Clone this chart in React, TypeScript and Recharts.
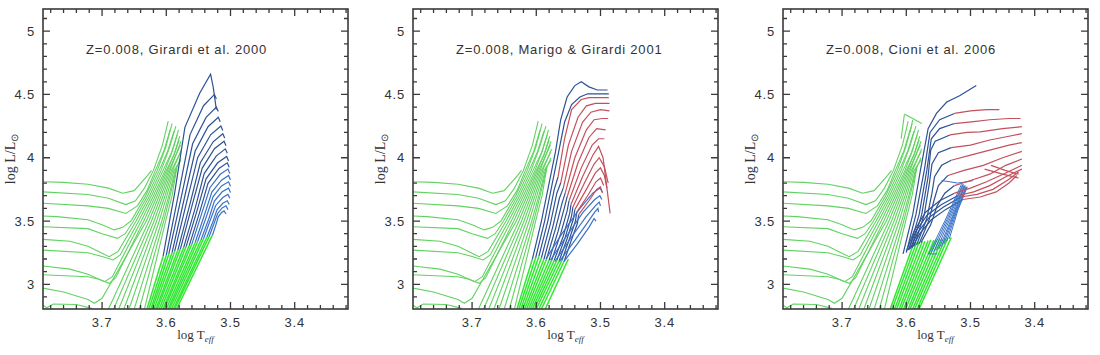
import { ScatterChart, Scatter, XAxis, YAxis } from 'recharts'

type Pt = [number, number]

// axes
const X_DOMAIN: [number, number] = [3.317, 3.792]
const Y_DOMAIN: [number, number] = [2.805, 5.175]
const X_TICKS = [3.32, 3.34, 3.36, 3.38, 3.4, 3.42, 3.44, 3.46, 3.48, 3.5, 3.52, 3.54, 3.56, 3.58, 3.6, 3.62, 3.64, 3.66, 3.68, 3.7, 3.72, 3.74, 3.76, 3.78]
const Y_TICKS = [2.9, 3, 3.1, 3.2, 3.3, 3.4, 3.5, 3.6, 3.7, 3.8, 3.9, 4, 4.1, 4.2, 4.3, 4.4, 4.5, 4.6, 4.7, 4.8, 4.9, 5, 5.1]

const TITLES = ['Z=0.008, Girardi et al. 2000', 'Z=0.008, Marigo & Girardi 2001', 'Z=0.008, Cioni et al. 2006']

// plot box inside each 370x355 panel
const PLOT_L = 43
const PLOT_T = 9
const PLOT_W = 305
const PLOT_H = 300

const FRAME = '#3a3a3a'
const GREEN = '#62d262'
const BRIGHT = '#30e830'
const BLUE = '#2d5295'
const BLUE_LIGHT = '#3a72c8'
const RED = '#c4505c'

// green isochrones with main-sequence part, shared by all panels
const GREEN_TRACKS: Pt[][] = [
  [[3.792, 3.81], [3.76, 3.805], [3.722, 3.79], [3.69, 3.76], [3.668, 3.72], [3.65, 3.74], [3.629, 3.86], [3.623, 3.9]],
  [[3.792, 3.73], [3.722, 3.71], [3.69, 3.68], [3.663, 3.63], [3.648, 3.66], [3.634, 3.76], [3.62, 3.9], [3.606, 4.1], [3.597, 4.29]],
  [[3.792, 3.64], [3.722, 3.62], [3.69, 3.6], [3.663, 3.56], [3.645, 3.62], [3.63, 3.74], [3.617, 3.9], [3.604, 4.05], [3.594, 4.22]],
  [[3.792, 3.54], [3.77, 3.535], [3.722, 3.51], [3.7, 3.47], [3.681, 3.43], [3.668, 3.45], [3.655, 3.5], [3.632, 3.7], [3.614, 3.9], [3.601, 4.08], [3.591, 4.27]],
  [[3.792, 3.455], [3.722, 3.44], [3.7, 3.4], [3.676, 3.363], [3.664, 3.4], [3.651, 3.5], [3.629, 3.7], [3.611, 3.9], [3.598, 4.05], [3.588, 4.21]],
  [[3.792, 3.355], [3.75, 3.34], [3.722, 3.3], [3.689, 3.218], [3.675, 3.26], [3.647, 3.5], [3.626, 3.7], [3.608, 3.9], [3.595, 4.08], [3.585, 4.25]],
  [[3.792, 3.27], [3.722, 3.25], [3.7, 3.22], [3.683, 3.192], [3.672, 3.23], [3.643, 3.5], [3.623, 3.7], [3.605, 3.9], [3.592, 4.04], [3.583, 4.18]],
  [[3.792, 3.145], [3.75, 3.12], [3.722, 3.08], [3.696, 3.021], [3.684, 3.06], [3.639, 3.5], [3.62, 3.7], [3.602, 3.9], [3.59, 4.06], [3.581, 4.22]],
  [[3.792, 3.075], [3.722, 3.06], [3.705, 3.04], [3.689, 3.008], [3.679, 3.05], [3.635, 3.5], [3.617, 3.7], [3.6, 3.9], [3.588, 4.02], [3.58, 4.14]],
  [[3.792, 2.97], [3.76, 2.94], [3.722, 2.88], [3.712, 2.85], [3.7, 2.89], [3.631, 3.5], [3.614, 3.7], [3.598, 3.9], [3.587, 4.04], [3.579, 4.17]],
  [[3.792, 2.835], [3.786, 2.815], [3.776, 2.845], [3.74, 2.84], [3.716, 2.81]],
]

// green giant branches entering from the bottom edge
const GREEN_RGB: Pt[][] = [
  [[3.69, 2.805], [3.627, 3.5], [3.611, 3.7], [3.596, 3.9], [3.578, 4.1]],
  [[3.682, 2.805], [3.623, 3.5], [3.608, 3.7], [3.594, 3.9], [3.577, 4.13]],
  [[3.674, 2.805], [3.619, 3.5], [3.605, 3.7], [3.592, 3.9], [3.577, 4.05]],
  [[3.666, 2.805], [3.615, 3.5], [3.602, 3.7], [3.59, 3.9], [3.576, 4.07]],
  [[3.658, 2.805], [3.611, 3.5], [3.599, 3.7], [3.588, 3.9], [3.577, 3.98]],
  [[3.65, 2.805], [3.607, 3.5], [3.596, 3.7], [3.586, 3.9], [3.577, 4.0]],
  [[3.642, 2.805], [3.604, 3.5], [3.594, 3.7], [3.584, 3.92]],
  [[3.634, 2.805], [3.601, 3.5], [3.591, 3.7], [3.583, 3.94]],
]

// panel 1: Girardi et al. 2000
const BRIGHT_1: Pt[][] = [
  [[3.63, 2.805], [3.605, 3.22]], [[3.627, 2.805], [3.6, 3.23]], [[3.624, 2.805], [3.596, 3.24]],
  [[3.622, 2.805], [3.591, 3.25]], [[3.619, 2.805], [3.587, 3.26]], [[3.616, 2.805], [3.582, 3.27]],
  [[3.614, 2.805], [3.578, 3.28]], [[3.611, 2.805], [3.573, 3.29]], [[3.608, 2.805], [3.569, 3.3]],
  [[3.605, 2.805], [3.564, 3.31]], [[3.603, 2.805], [3.56, 3.32]], [[3.6, 2.805], [3.555, 3.33]],
  [[3.597, 2.805], [3.551, 3.34]], [[3.595, 2.805], [3.546, 3.35]], [[3.592, 2.805], [3.542, 3.36]],
  [[3.589, 2.805], [3.537, 3.37]], [[3.587, 2.805], [3.533, 3.38]], [[3.584, 2.805], [3.528, 3.39]],
]

const BLUE_1: Pt[][] = [
  [[3.605, 3.22], [3.587, 3.72], [3.571, 4.24], [3.548, 4.51], [3.531, 4.66], [3.527, 4.56], [3.522, 4.38]],
  [[3.6, 3.23], [3.58, 3.738], [3.563, 4.183], [3.542, 4.411], [3.525, 4.5], [3.522, 4.465]],
  [[3.596, 3.24], [3.576, 3.704], [3.559, 4.11], [3.538, 4.319], [3.522, 4.4], [3.519, 4.365]],
  [[3.591, 3.25], [3.572, 3.678], [3.555, 4.053], [3.535, 4.245], [3.519, 4.32], [3.516, 4.285]],
  [[3.587, 3.26], [3.568, 3.656], [3.551, 4.003], [3.531, 4.181], [3.515, 4.25], [3.512, 4.215]],
  [[3.582, 3.27], [3.563, 3.638], [3.547, 3.96], [3.527, 4.126], [3.512, 4.19], [3.509, 4.155]],
  [[3.578, 3.28], [3.56, 3.62], [3.544, 3.918], [3.525, 4.071], [3.51, 4.13], [3.507, 4.095]],
  [[3.573, 3.29], [3.555, 3.602], [3.541, 3.875], [3.522, 4.015], [3.508, 4.07], [3.505, 4.035]],
  [[3.569, 3.3], [3.552, 3.584], [3.538, 3.833], [3.52, 3.96], [3.506, 4.01], [3.503, 3.975]],
  [[3.564, 3.31], [3.548, 3.57], [3.535, 3.798], [3.518, 3.915], [3.505, 3.96], [3.502, 3.925]],
  [[3.56, 3.32], [3.545, 3.556], [3.532, 3.763], [3.516, 3.869], [3.504, 3.91], [3.501, 3.875]],
  [[3.555, 3.33], [3.541, 3.542], [3.529, 3.728], [3.514, 3.823], [3.503, 3.86], [3.5, 3.825]],
  [[3.551, 3.34], [3.538, 3.528], [3.527, 3.693], [3.514, 3.777], [3.503, 3.81], [3.5, 3.775]],
  [[3.546, 3.35], [3.534, 3.514], [3.525, 3.658], [3.513, 3.731], [3.503, 3.76], [3.5, 3.725]],
  [[3.542, 3.36], [3.532, 3.5], [3.523, 3.623], [3.512, 3.686], [3.504, 3.71], [3.501, 3.68]],
  [[3.537, 3.37], [3.528, 3.486], [3.521, 3.588], [3.512, 3.64], [3.505, 3.66], [3.502, 3.63]],
  [[3.533, 3.38], [3.526, 3.476], [3.52, 3.56], [3.513, 3.603], [3.507, 3.62], [3.504, 3.59]],
  [[3.528, 3.39], [3.523, 3.466], [3.519, 3.533], [3.514, 3.567], [3.51, 3.58], [3.507, 3.555]],
]

// panel 2: Marigo & Girardi 2001
const BRIGHT_2: Pt[][] = [
  [[3.63, 2.805], [3.606, 3.2]], [[3.627, 2.805], [3.601, 3.21]], [[3.624, 2.805], [3.596, 3.22]],
  [[3.621, 2.805], [3.592, 3.21]], [[3.618, 2.805], [3.588, 3.2]], [[3.615, 2.805], [3.584, 3.2]],
  [[3.612, 2.805], [3.58, 3.19]], [[3.609, 2.805], [3.576, 3.19]], [[3.606, 2.805], [3.572, 3.19]],
  [[3.603, 2.805], [3.568, 3.19]], [[3.6, 2.805], [3.564, 3.19]], [[3.596, 2.805], [3.56, 3.19]],
  [[3.592, 2.805], [3.556, 3.19]], [[3.586, 2.805], [3.55, 3.2]],
]

const BLUE_2: Pt[][] = [
  [[3.606, 3.2], [3.592, 3.5], [3.58, 3.8], [3.57, 4.05], [3.562, 4.3], [3.552, 4.48], [3.54, 4.57], [3.53, 4.6], [3.518, 4.56], [3.505, 4.535], [3.489, 4.535]],
  [[3.601, 3.21], [3.587, 3.5], [3.575, 3.8], [3.565, 4.05], [3.556, 4.28], [3.545, 4.42], [3.532, 4.48], [3.52, 4.505], [3.505, 4.505], [3.487, 4.505]],
  [[3.596, 3.22], [3.582, 3.5], [3.572, 3.75], [3.566, 3.85]],
  [[3.592, 3.21], [3.578, 3.48], [3.568, 3.72], [3.562, 3.8]],
  [[3.588, 3.2], [3.574, 3.46], [3.564, 3.68], [3.558, 3.76]],
  [[3.584, 3.2], [3.57, 3.44], [3.56, 3.64], [3.555, 3.72]],
  [[3.58, 3.19], [3.566, 3.42], [3.556, 3.61], [3.552, 3.69]],
  [[3.576, 3.19], [3.562, 3.4], [3.552, 3.58], [3.549, 3.66]],
  [[3.572, 3.19], [3.558, 3.38], [3.548, 3.56], [3.546, 3.63]],
  [[3.568, 3.19], [3.555, 3.37], [3.545, 3.54], [3.543, 3.61]],
  [[3.564, 3.19], [3.552, 3.36], [3.542, 3.52], [3.54, 3.59]],
  [[3.56, 3.19], [3.549, 3.35], [3.539, 3.5], [3.537, 3.57]],
  [[3.556, 3.19], [3.546, 3.34], [3.536, 3.48], [3.534, 3.55]],
]

const BLUE_2_LOW: Pt[][] = [
  [[3.585, 3.2], [3.56, 3.4], [3.532, 3.6], [3.512, 3.72], [3.501, 3.76], [3.497, 3.73]],
  [[3.578, 3.19], [3.553, 3.38], [3.527, 3.57], [3.509, 3.67], [3.501, 3.7], [3.498, 3.67]],
  [[3.571, 3.18], [3.547, 3.36], [3.523, 3.53], [3.508, 3.62], [3.502, 3.65], [3.5, 3.62]],
  [[3.564, 3.18], [3.541, 3.34], [3.52, 3.49], [3.509, 3.57], [3.504, 3.6], [3.503, 3.57]],
  [[3.557, 3.18], [3.536, 3.32], [3.518, 3.45], [3.51, 3.52], [3.507, 3.5]],
]

const RED_2: Pt[][] = [
  [[3.566, 3.85], [3.556, 4.15], [3.545, 4.38], [3.53, 4.46], [3.518, 4.475], [3.487, 4.475]],
  [[3.562, 3.8], [3.55, 4.1], [3.535, 4.32], [3.522, 4.41], [3.508, 4.43], [3.486, 4.43]],
  [[3.558, 3.76], [3.545, 4.05], [3.528, 4.28], [3.515, 4.36], [3.5, 4.38], [3.486, 4.37]],
  [[3.555, 3.72], [3.54, 4.0], [3.522, 4.22], [3.51, 4.3], [3.497, 4.31], [3.488, 4.31]],
  [[3.552, 3.69], [3.535, 3.96], [3.518, 4.16], [3.506, 4.23], [3.492, 4.22]],
  [[3.549, 3.66], [3.53, 3.92], [3.513, 4.1], [3.503, 4.15], [3.494, 4.15]],
  [[3.546, 3.63], [3.528, 3.85], [3.512, 4.02], [3.503, 4.09], [3.496, 4.0], [3.485, 3.56]],
  [[3.543, 3.61], [3.525, 3.8], [3.51, 3.95], [3.502, 4.0], [3.494, 3.93], [3.488, 3.8]],
  [[3.54, 3.59], [3.522, 3.75], [3.508, 3.88], [3.5, 3.92], [3.494, 3.86], [3.49, 3.76]],
  [[3.537, 3.57], [3.52, 3.7], [3.507, 3.81], [3.5, 3.84], [3.495, 3.78]],
  [[3.534, 3.55], [3.518, 3.66], [3.506, 3.75], [3.5, 3.77], [3.497, 3.72]],
]

// panel 3: Cioni et al. 2006
const BRIGHT_3: Pt[][] = [
  [[3.625, 2.805], [3.588, 3.33]], [[3.622, 2.805], [3.584, 3.33]], [[3.618, 2.805], [3.58, 3.335]],
  [[3.615, 2.805], [3.575, 3.34]], [[3.611, 2.805], [3.571, 3.34]], [[3.608, 2.805], [3.566, 3.345]],
  [[3.604, 2.805], [3.562, 3.35]], [[3.601, 2.805], [3.557, 3.35]], [[3.597, 2.805], [3.553, 3.355]],
  [[3.594, 2.805], [3.548, 3.36]], [[3.59, 2.805], [3.544, 3.36]], [[3.587, 2.805], [3.539, 3.365]],
  [[3.583, 2.805], [3.535, 3.37]], [[3.58, 2.805], [3.53, 3.37]],
]

const GREEN_3: Pt[][] = [
  [[3.603, 4.345], [3.59, 4.31], [3.576, 4.27]],
  [[3.608, 4.15], [3.603, 4.34]],
  [[3.594, 4.2], [3.59, 4.3]],
]

const BLUE_3: Pt[][] = [
  [[3.605, 3.24], [3.59, 3.55], [3.578, 3.9], [3.566, 4.23], [3.553, 4.35], [3.537, 4.44], [3.517, 4.49], [3.491, 4.57]],
  [[3.6, 3.25], [3.585, 3.55], [3.572, 3.9], [3.563, 4.2], [3.548, 4.3], [3.525, 4.35]],
  [[3.596, 3.27], [3.58, 3.55], [3.568, 3.9], [3.561, 4.15], [3.548, 4.23], [3.525, 4.27]],
  [[3.592, 3.29], [3.576, 3.55], [3.566, 3.85], [3.562, 4.06], [3.555, 4.13], [3.532, 4.18]],
  [[3.588, 3.3], [3.572, 3.55], [3.564, 3.8], [3.56, 3.95], [3.55, 4.04], [3.53, 4.08]],
  [[3.584, 3.31], [3.568, 3.52], [3.56, 3.72], [3.556, 3.85], [3.545, 3.94], [3.53, 3.98]],
  [[3.58, 3.32], [3.565, 3.5], [3.557, 3.66], [3.55, 3.78], [3.535, 3.86]],
  [[3.577, 3.33], [3.562, 3.47], [3.552, 3.62], [3.54, 3.72], [3.525, 3.78]],
  [[3.6, 3.26], [3.588, 3.42], [3.57, 3.57], [3.548, 3.66], [3.525, 3.72]],
  [[3.597, 3.27], [3.585, 3.42], [3.567, 3.55], [3.545, 3.63], [3.52, 3.7]],
  [[3.594, 3.28], [3.582, 3.41], [3.564, 3.53], [3.542, 3.61], [3.515, 3.69]],
  [[3.591, 3.29], [3.579, 3.4], [3.561, 3.51], [3.539, 3.59], [3.512, 3.67]],
]

const FAN_3: Pt[][] = [
  [[3.565, 3.24], [3.54, 3.5], [3.514, 3.79]],
  [[3.561, 3.25], [3.537, 3.51], [3.512, 3.79]],
  [[3.557, 3.26], [3.534, 3.52], [3.511, 3.79]],
  [[3.553, 3.27], [3.531, 3.53], [3.51, 3.78]],
  [[3.549, 3.28], [3.528, 3.54], [3.509, 3.78]],
  [[3.545, 3.3], [3.526, 3.55], [3.508, 3.78]],
  [[3.541, 3.32], [3.524, 3.56], [3.507, 3.77]],
  [[3.537, 3.34], [3.522, 3.57], [3.506, 3.77]],
  [[3.533, 3.36], [3.52, 3.58], [3.505, 3.77]],
  [[3.566, 3.24], [3.552, 3.24]],
  [[3.545, 3.82], [3.52, 3.8], [3.505, 3.81], [3.496, 3.82]],
]

const RED_3: Pt[][] = [
  [[3.525, 4.35], [3.5, 4.37], [3.475, 4.38], [3.455, 4.38]],
  [[3.525, 4.27], [3.495, 4.285], [3.47, 4.3], [3.44, 4.31], [3.422, 4.31]],
  [[3.532, 4.18], [3.505, 4.2], [3.485, 4.205], [3.45, 4.23], [3.42, 4.245]],
  [[3.53, 4.08], [3.5, 4.1], [3.47, 4.14], [3.44, 4.17], [3.42, 4.19]],
  [[3.53, 3.98], [3.5, 4.02], [3.47, 4.06], [3.44, 4.1], [3.42, 4.12]],
  [[3.535, 3.86], [3.51, 3.9], [3.48, 3.94], [3.45, 4.0], [3.42, 4.05]],
  [[3.525, 3.78], [3.5, 3.82], [3.47, 3.87], [3.445, 3.94], [3.42, 3.99]],
  [[3.525, 3.72], [3.5, 3.76], [3.475, 3.81], [3.445, 3.88], [3.42, 3.94]],
  [[3.52, 3.7], [3.495, 3.73], [3.47, 3.78], [3.445, 3.85], [3.42, 3.91]],
  [[3.515, 3.69], [3.49, 3.71], [3.465, 3.75], [3.44, 3.83], [3.425, 3.89]],
  [[3.512, 3.67], [3.485, 3.69], [3.46, 3.73], [3.44, 3.8], [3.428, 3.86]],
  [[3.478, 3.91], [3.45, 3.87], [3.425, 3.84]],
  [[3.468, 3.94], [3.446, 3.9], [3.425, 3.87]],
]

interface Group {
  lines: Pt[][]
  color: string
  width: number
}

const PANELS: Group[][] = [
  [
    { lines: GREEN_TRACKS, color: GREEN, width: 1.1 },
    { lines: GREEN_RGB, color: GREEN, width: 1.1 },
    { lines: BRIGHT_1, color: BRIGHT, width: 1.5 },
    { lines: BLUE_1.slice(0, 10), color: BLUE, width: 1.2 },
    { lines: BLUE_1.slice(10), color: BLUE_LIGHT, width: 1.2 },
  ],
  [
    { lines: GREEN_TRACKS, color: GREEN, width: 1.1 },
    { lines: GREEN_RGB, color: GREEN, width: 1.1 },
    { lines: BRIGHT_2, color: BRIGHT, width: 1.5 },
    { lines: BLUE_2, color: BLUE, width: 1.2 },
    { lines: BLUE_2_LOW, color: BLUE_LIGHT, width: 1.2 },
    { lines: RED_2, color: RED, width: 1.2 },
  ],
  [
    { lines: GREEN_TRACKS, color: GREEN, width: 1.1 },
    { lines: GREEN_RGB, color: GREEN, width: 1.1 },
    { lines: GREEN_3, color: GREEN, width: 1.1 },
    { lines: BRIGHT_3, color: BRIGHT, width: 1.5 },
    { lines: BLUE_3, color: BLUE, width: 1.2 },
    { lines: FAN_3, color: BLUE_LIGHT, width: 1 },
    { lines: RED_3, color: RED, width: 1.2 },
  ],
]

const isMajorX = (v: number) => Math.abs(v * 10 - Math.round(v * 10)) < 1e-6
const isMajorY = (v: number) => Math.abs(v * 2 - Math.round(v * 2)) < 1e-6

// pixel position of an axis value inside the plot box (same linear map as the chart axes)
const px = (v: number) => PLOT_L + ((X_DOMAIN[1] - v) / (X_DOMAIN[1] - X_DOMAIN[0])) * PLOT_W
const py = (v: number) => PLOT_T + ((Y_DOMAIN[1] - v) / (Y_DOMAIN[1] - Y_DOMAIN[0])) * PLOT_H

const LABEL_STYLE = { fontFamily: '"Liberation Sans", Arial, sans-serif', fontSize: 13, letterSpacing: 0.8, fill: '#333' }

function BottomLabel({ x, y, payload }: any) {
  if (!isMajorX(payload.value)) return <g />
  return (
    <text x={x} y={y + 18} textAnchor="middle" {...LABEL_STYLE}>
      {payload.value.toFixed(1)}
    </text>
  )
}

function LeftLabel({ x, y, payload }: any) {
  if (!isMajorY(payload.value)) return <g />
  return (
    <text x={x - 8} y={y + 4.5} textAnchor="end" {...LABEL_STYLE}>
      {String(Number(payload.value.toFixed(1)))}
    </text>
  )
}

// inward tick marks on all four sides of the frame
function frameTicks() {
  let d = ''
  X_TICKS.forEach((v) => {
    const len = isMajorX(v) ? 7 : 4
    const x = px(v)
    d += `M${x},${PLOT_T + PLOT_H}v${-len}M${x},${PLOT_T}v${len}`
  })
  Y_TICKS.forEach((v) => {
    const len = isMajorY(v) ? 7 : 4
    const y = py(v)
    d += `M${PLOT_L},${y}h${len}M${PLOT_L + PLOT_W},${y}h${-len}`
  })
  return d
}

const NoDot = () => <g />

function Panel({ index }: { index: number }) {
  const groups = PANELS[index]
  return (
    <div style={{ position: 'absolute', left: index * 370, top: 0, width: 370, height: 355 }}>
      <ScatterChart width={370} height={355} margin={{ top: PLOT_T, right: 370 - PLOT_L - PLOT_W, bottom: 0, left: 0 }}>
        <XAxis
          type="number"
          dataKey="x"
          domain={X_DOMAIN}
          reversed
          allowDataOverflow
          ticks={X_TICKS}
          interval={0}
          tickLine={false}
          tickSize={0}
          tickMargin={0}
          height={355 - PLOT_T - PLOT_H}
          axisLine={false}
          tick={(p: any) => <BottomLabel {...p} />}
        />
        <YAxis
          type="number"
          dataKey="y"
          domain={Y_DOMAIN}
          allowDataOverflow
          ticks={Y_TICKS}
          interval={0}
          tickLine={false}
          tickSize={0}
          tickMargin={0}
          width={PLOT_L}
          axisLine={false}
          tick={(p: any) => <LeftLabel {...p} />}
        />
        {groups.flatMap((g, gi) =>
          g.lines.map((line, li) => (
            <Scatter
              key={`${gi}-${li}`}
              data={line.map(([x, y]) => ({ x, y }))}
              line={{ stroke: g.color, strokeWidth: g.width }}
              shape={NoDot}
              fill={g.color}
              legendType="none"
              isAnimationActive={false}
            />
          )),
        )}
      </ScatterChart>
      <svg width={370} height={355} style={{ position: 'absolute', left: 0, top: 0, pointerEvents: 'none' }}>
        <rect x={PLOT_L} y={PLOT_T} width={PLOT_W} height={PLOT_H} fill="none" stroke={FRAME} strokeWidth={1.6} />
        <path d={frameTicks()} stroke={FRAME} strokeWidth={1.3} fill="none" />
        <text x={86} y={54} {...LABEL_STYLE}>
          {TITLES[index]}
        </text>
        <text x={195.5} y={339} textAnchor="middle" fontFamily='"Liberation Serif", "Times New Roman", serif' fontSize={13} fill="#333">
          log T
          <tspan fontSize={9} dy={3} fontStyle="italic">eff</tspan>
        </text>
        <text
          transform="translate(15,159) rotate(-90)"
          textAnchor="middle"
          fontFamily='"Liberation Serif", "Times New Roman", serif'
          fontSize={14}
          fill="#333"
        >
          log L/L
          <tspan fontSize={10} dy={3}>⊙</tspan>
        </text>
      </svg>
    </div>
  )
}

export default function App() {
  return (
    <div style={{ position: 'absolute', left: 0, top: 0, width: 1100, height: 355, background: '#fff', overflow: 'hidden' }}>
      <Panel index={0} />
      <Panel index={1} />
      <Panel index={2} />
    </div>
  )
}
